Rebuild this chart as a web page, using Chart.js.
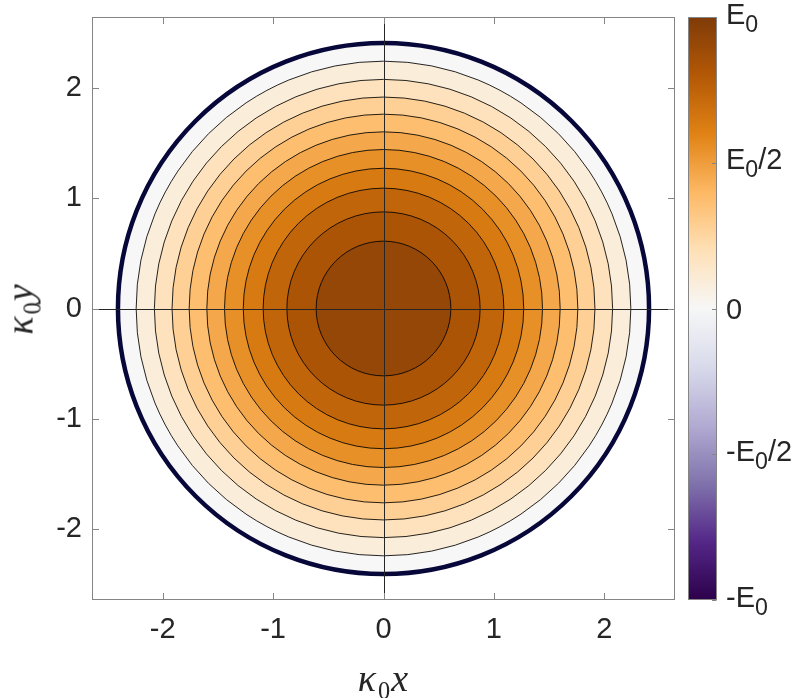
<!DOCTYPE html>
<html>
<head>
<meta charset="utf-8">
<script src="https://cdn.jsdelivr.net/npm/chart.js@4.4.1/dist/chart.umd.min.js"></script>
<style>
  html, body { margin: 0; padding: 0; background: #fff; }
  #wrap { position: relative; width: 795px; height: 698px; overflow: hidden;
          font-family: "Liberation Sans", Arial, sans-serif; color: #262626; }
  #plot { position: absolute; left: 0; top: 0; }
  .cb-label { position: absolute; font-size: 29px; line-height: 30px; white-space: nowrap; }
  .cb-label .sub { font-size: 0.8em; position: relative; top: 8px; }
  .axis-title { position: absolute; font-family: "Liberation Serif", "DejaVu Serif", serif;
                font-size: 38px; line-height: 38px; white-space: nowrap; color: #262626; }
  .axis-title i { letter-spacing: 1px; }
  .axis-title .sub { font-size: 0.64em; position: relative; top: 8px; margin: 0 1px; }
</style>
</head>
<body>
<div id="wrap">
  <canvas id="plot" width="795" height="698"></canvas>
  <div class="axis-title" id="xtitle"><i>κ</i><span class="sub">0</span><i>x</i></div>
  <div class="axis-title" id="ytitle"><i>κ</i><span class="sub">0</span><i>y</i></div>
</div>
<script>
/* Contour map of E on a disc + PuOr colorbar */

// axes
const AXIS_LIMIT = 2.64;
const X_TICKS = [-2, -1, 0, 1, 2];
const Y_TICKS = [-2, -1, 0, 1, 2];

// contour lines (outermost first), and the value of the band inside each
const CONTOUR_RADII  = [2.405, 2.24, 2.075, 1.915, 1.76, 1.60, 1.44, 1.27, 1.09, 0.875, 0.61];
const CONTOUR_LEVELS = [0.00, 0.09, 0.18, 0.28, 0.37, 0.46, 0.55, 0.64, 0.74, 0.83, 0.92];

// colorbar
const CB_TICKS  = [1, 0.5, 0, -0.5, -1];
const CB_LABELS = ['E<span class="sub">0</span>', 'E<span class="sub">0</span>/2', '0',
                   '-E<span class="sub">0</span>/2', '-E<span class="sub">0</span>'];

// PuOr colormap, brown at +1, purple at -1
const CMAP_STOPS  = [1, 0.8, 0.6, 0.4, 0.2, 0, -0.2, -0.4, -0.6, -0.8, -1];
const CMAP_COLORS = ['#7f3b08', '#b35806', '#e08214', '#fdb863', '#fee0b6', '#f7f7f7',
                     '#d8daeb', '#b2abd2', '#8073ac', '#542788', '#2d004b'];

function hexRgb(h) {
  return [1, 3, 5].map(i => parseInt(h.slice(i, i + 2), 16));
}
function colormap(v) {
  for (let i = 0; i < CMAP_STOPS.length - 1; i++) {
    const a = CMAP_STOPS[i], b = CMAP_STOPS[i + 1];
    if (v <= a && v >= b) {
      const t = (a - v) / (a - b);
      const ca = hexRgb(CMAP_COLORS[i]), cb = hexRgb(CMAP_COLORS[i + 1]);
      const c = ca.map((x, k) => Math.round(x + (cb[k] - x) * t));
      return `rgb(${c[0]},${c[1]},${c[2]})`;
    }
  }
  return CMAP_COLORS[v > 0 ? 0 : CMAP_COLORS.length - 1];
}

// one filled disc per contour line; its pixel radius comes from the x scale
const datasets = CONTOUR_RADII.map((r, i) => ({
  data: [{ x: 0, y: 0 }],
  showLine: false,
  order: CONTOUR_RADII.length - i,
  pointBackgroundColor: colormap(CONTOUR_LEVELS[i]),
  pointBorderColor: i === 0 ? '#07073a' : 'rgba(0,0,0,0.85)',
  pointBorderWidth: i === 0 ? 4.5 : 1,
  pointRadius: ctx => {
    const s = ctx.chart.scales.x;
    const px = Math.abs(s.getPixelForValue(r) - s.getPixelForValue(0));
    return isFinite(px) ? px : 0;
  }
}));

const TEXT = '#262626';
const FRAME = '#858585';

const framePlugin = {
  id: 'frame',
  afterDatasetsDraw(chart) {
    const { ctx, chartArea: a, scales: { x, y } } = chart;
    ctx.save();
    ctx.strokeStyle = TEXT;
    ctx.lineWidth = 1;
    const x0 = Math.round(x.getPixelForValue(0)) + 0.5;
    const y0 = Math.round(y.getPixelForValue(0)) + 0.5;
    ctx.beginPath();
    ctx.moveTo(x0, a.top); ctx.lineTo(x0, a.bottom);
    ctx.moveTo(a.left, y0); ctx.lineTo(a.right, y0);
    ctx.stroke();
    ctx.restore();
  },
  afterDraw(chart) {
    const { ctx, chartArea: a, scales: { x, y, cb } } = chart;
    const L = Math.round(a.left) + 0.5, R = Math.round(a.right) - 0.5;
    const T = Math.round(a.top) + 0.5, B = Math.round(a.bottom) - 0.5;
    ctx.save();
    ctx.strokeStyle = FRAME;
    ctx.lineWidth = 1;
    ctx.strokeRect(L, T, R - L, B - T);
    const tl = 6.5;
    ctx.beginPath();
    X_TICKS.forEach(v => {
      const px = Math.round(x.getPixelForValue(v)) + 0.5;
      ctx.moveTo(px, B); ctx.lineTo(px, B - tl);
      ctx.moveTo(px, T); ctx.lineTo(px, T + tl);
    });
    Y_TICKS.forEach(v => {
      const py = Math.round(y.getPixelForValue(v)) + 0.5;
      ctx.moveTo(L, py); ctx.lineTo(L + tl, py);
      ctx.moveTo(R, py); ctx.lineTo(R - tl, py);
    });
    ctx.stroke();

    // colorbar
    const cbL = Math.round(a.right) + 13, cbR = cbL + 29;
    const cbT = cb.getPixelForValue(1), cbB = cb.getPixelForValue(-1);
    const g = ctx.createLinearGradient(0, cbT, 0, cbB);
    CMAP_STOPS.forEach((v, i) => g.addColorStop((1 - v) / 2, CMAP_COLORS[i]));
    ctx.fillStyle = g;
    ctx.fillRect(cbL, cbT, cbR - cbL, cbB - cbT);
    ctx.strokeRect(cbL + 0.5, Math.round(cbT) + 0.5, cbR - cbL - 1, Math.round(cbB - cbT) - 1);
    ctx.beginPath();
    CB_TICKS.forEach(v => {
      const py = Math.round(cb.getPixelForValue(v)) + 0.5;
      ctx.moveTo(cbR - 0.5, py); ctx.lineTo(cbR - 5, py);
    });
    ctx.stroke();
    ctx.restore();
  },
  afterRender(chart) {
    if (chart._labelsPlaced) return;
    chart._labelsPlaced = true;
    const wrap = document.getElementById('wrap');
    const { chartArea: a, scales: { x, y, cb } } = chart;
    CB_TICKS.forEach((v, i) => {
      const el = document.createElement('div');
      el.className = 'cb-label';
      el.innerHTML = CB_LABELS[i];
      el.style.left = (Math.round(a.right) + 51) + 'px';
      const hasSub = CB_LABELS[i].indexOf('sub') >= 0;
      el.style.top = (cb.getPixelForValue(v) - (hasSub ? 18.5 : 14.5)) + 'px';
      wrap.appendChild(el);
    });
    const xt = document.getElementById('xtitle');
    xt.style.left = x.getPixelForValue(0) + 'px';
    xt.style.top = '659px';
    xt.style.transform = 'translateX(-50%)';
    const yt = document.getElementById('ytitle');
    yt.style.left = '22px';
    yt.style.top = y.getPixelForValue(0) + 'px';
    yt.style.transform = 'translate(-50%, -50%) rotate(-90deg)';
  }
};

new Chart(document.getElementById('plot'), {
  type: 'scatter',
  data: { datasets },
  options: {
    responsive: false,
    animation: false,
    events: [],
    layout: { autoPadding: false, padding: { left: 0, right: 120, top: 17, bottom: 0 } },
    plugins: { legend: { display: false }, tooltip: { enabled: false } },
    scales: {
      x: {
        type: 'linear', min: -AXIS_LIMIT, max: AXIS_LIMIT,
        afterBuildTicks: s => { s.ticks = X_TICKS.map(v => ({ value: v })); },
        afterFit: s => { s.height = 98; s.paddingLeft = 0; s.paddingRight = 0; },
        grid: { display: false, drawTicks: false },
        border: { display: false },
        ticks: { padding: 13, color: TEXT, font: { family: 'Liberation Sans', size: 29 } }
      },
      y: {
        type: 'linear', min: -AXIS_LIMIT, max: AXIS_LIMIT,
        afterBuildTicks: s => { s.ticks = Y_TICKS.map(v => ({ value: v })); },
        afterFit: s => { s.width = 92; s.paddingTop = 0; s.paddingBottom = 0; },
        grid: { display: false, drawTicks: false },
        border: { display: false },
        ticks: { padding: 10, color: TEXT, font: { family: 'Liberation Sans', size: 29 } }
      },
      cb: { type: 'linear', axis: 'y', position: 'right', display: false, min: -1, max: 1 }
    }
  },
  plugins: [framePlugin]
});
</script>
</body>
</html>
